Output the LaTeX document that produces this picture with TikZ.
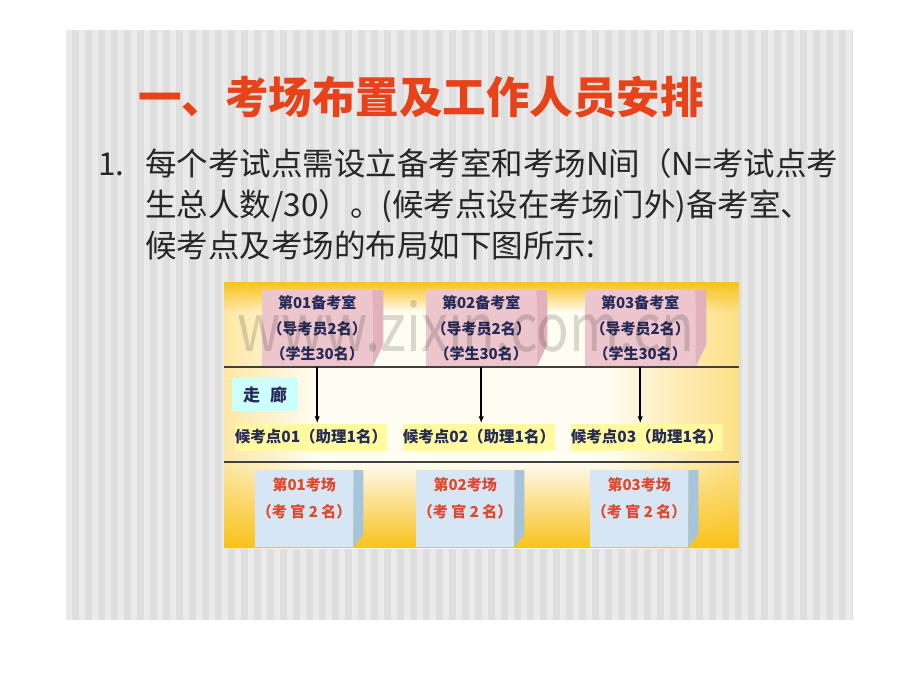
\documentclass[tikz,border=0pt]{standalone}
\usepackage{fontspec}
\setmainfont{Noto Sans CJK SC}
\usetikzlibrary{arrows.meta,fadings}
\definecolor{titlered}{RGB}{232,66,26}
\definecolor{stripeA}{RGB}{222,222,222}
\definecolor{stripeB}{RGB}{234,234,234}
\definecolor{gold}{RGB}{249,194,26}
\definecolor{cream}{RGB}{255,252,242}
\definecolor{pinkface}{RGB}{236,198,204}
\definecolor{pinkside}{RGB}{226,178,188}
\definecolor{blueface}{RGB}{214,230,244}
\definecolor{blueside}{RGB}{166,196,220}
\definecolor{navy}{RGB}{38,42,88}
\definecolor{roomred}{RGB}{222,72,44}
\definecolor{labelyellow}{RGB}{255,250,160}
\definecolor{corrcyan}{RGB}{204,255,255}
\pgfdeclarehorizontalshading{panelglow}{100bp}{color(0bp)=(gold); color(9bp)=(gold);
  color(34bp)=(cream); color(62bp)=(cream); color(88bp)=(gold); color(100bp)=(gold)}
\tikzset{
  prep/.style={fill=pinkface, minimum width=110pt, minimum height=77pt, anchor=north west,
    align=center, text=navy, inner sep=0pt, font=\fontsize{15}{25.5}\selectfont\bfseries},
  exam/.style={fill=blueface, minimum width=98pt, minimum height=77pt, anchor=north west, inner sep=0pt},
  examtext/.style={anchor=north, align=center, text=roomred, inner sep=0pt,
    font=\fontsize{15}{27}\selectfont\bfseries},
  waitbox/.style={fill=labelyellow, minimum width=148pt, minimum height=27pt, inner sep=0pt,
    text=navy, font=\fontsize{15.5}{15.5}\selectfont\bfseries},
  corridor/.style={fill=corrcyan, minimum width=66pt, minimum height=33pt, anchor=north west,
    text=navy, font=\fontsize{17}{17}\selectfont\bfseries},
  hallline/.style={line width=1.4pt, draw=black!75},
  flow/.style={-{Latex[length=7pt,width=5.5pt]}, line width=1.6pt},
  bodytext/.style={anchor=base west, inner sep=0pt, font=\fontsize{31.5}{31.5}\selectfont, text=black!85}
}
\begin{document}
\begin{tikzpicture}[x=1pt,y=-1pt]
\useasboundingbox[fill=white] (0,0) rectangle (920,690);
% slide background
\fill[stripeA] (66,30) rectangle (853,620);
\foreach \x in {66,79,...,846}
  \fill[stripeB] (\x,30) rectangle ++(6,590);

\node[anchor=west, inner sep=0pt, text=titlered, font=\fontsize{43.5}{43.5}\selectfont\bfseries]
  (title) at (138,97) {一、考场布置及工作人员安排};

\node[bodytext] (num) at (98,175) {1.};
\node[bodytext] (line1) at (145,175) {每个考试点需设立备考室和考场N间（N=考试点考};
\node[bodytext] (line2) at (145,216) {生总人数/30）。(候考点设在考场门外)备考室、};
\node[bodytext] (line3) at (145,257) {候考点及考场的布局如下图所示:};

% layout panel
\shade[shading=panelglow] (224,282) rectangle (739,548);
\fill[gold, path fading=south] (224,282) rectangle (739,312);
\fill[gold, path fading=north] (224,462) rectangle (739,548);
\coordinate (hallL) at (224,367);
\coordinate (hallR) at (739,367);
\coordinate (doorL) at (224,462);
\coordinate (doorR) at (739,462);

\node[prep] (prep1) at (262,290) {第01备考室\\（导考员2名）\\（学生30名）};
\node[prep] (prep2) at (426,290) {第02备考室\\（导考员2名）\\（学生30名）};
\node[prep] (prep3) at (585,290) {第03备考室\\（导考员2名）\\（学生30名）};
\foreach \r in {prep1,prep2,prep3}
  \fill[pinkside] (\r.north east) -- ++(11,0) -- ++(0,54) -- (\r.south east) -- cycle;

\node[font=\fontsize{66}{66}\selectfont, text=black, opacity=0.15, xscale=0.82]
  (mark) at (466,326) {www.zixin.com.cn};

\draw[hallline] (hallL) -- (hallR);
\draw[hallline] (doorL) -- (doorR);

\node[corridor] (hall) at (232,378) {走\hspace{10pt}廊};

\node[waitbox] (wait1) at (311,437) {候考点01（助理1名）};
\node[waitbox] (wait2) at (479,437) {候考点02（助理1名）};
\node[waitbox] (wait3) at (647,437) {候考点03（助理1名）};

\draw[flow] (prep1.south) -- (prep1.south |- wait1.north);
\draw[flow] (prep2.south) -- (prep2.south |- wait2.north);
\draw[flow] (prep3.south) -- (prep3.south |- wait3.north);

\node[exam] (exam1) at (255,470) {};
\node[exam] (exam2) at (416,470) {};
\node[exam] (exam3) at (590,470) {};
\foreach \r in {exam1,exam2,exam3}
  \fill[blueside] (\r.north east) -- ++(10,0) -- ++(0,64) -- (\r.south east) -- cycle;
\node[examtext] (exam1t) at ([yshift=-7pt]exam1.north) {第01考场\\（考 官 2 名）};
\node[examtext] (exam2t) at ([yshift=-7pt]exam2.north) {第02考场\\（考 官 2 名）};
\node[examtext] (exam3t) at ([yshift=-7pt]exam3.north) {第03考场\\（考 官 2 名）};
\end{tikzpicture}
\end{document}
